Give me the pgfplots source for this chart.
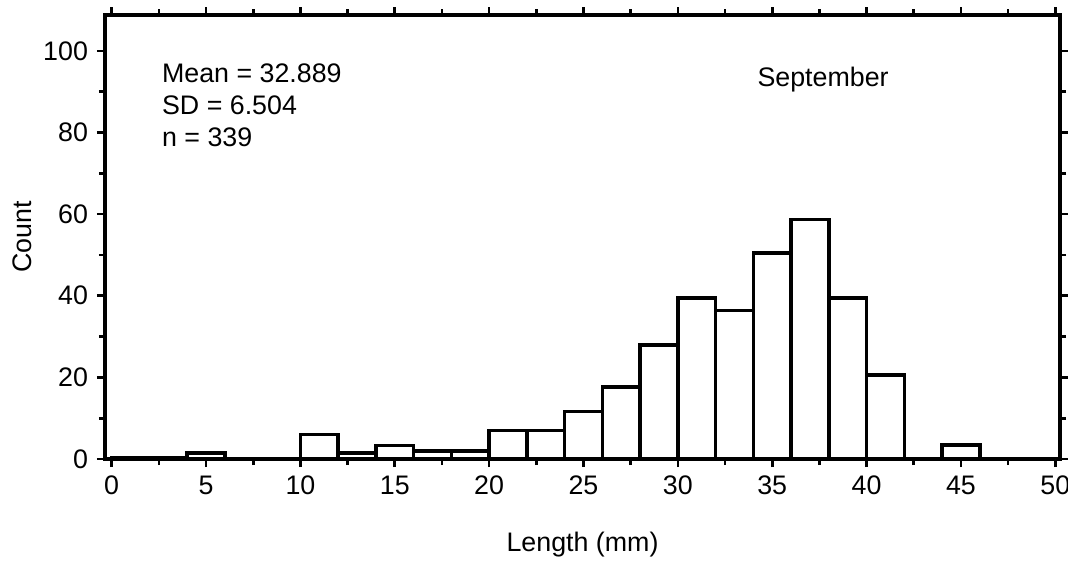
\documentclass[border=0pt]{standalone}
\usepackage{fontspec}
\setmainfont{Liberation Sans}
\usepackage{pgfplots}
\pgfplotsset{compat=1.18}
\begin{document}
\begin{tikzpicture}
\useasboundingbox (0,0) rectangle (534pt,287.5pt);
\begin{axis}[
  at={(52.5pt,58pt)}, anchor=south west,
  scale only axis, width=477.5pt, height=222pt,
  xmin=-0.355, xmax=50.25, ymin=0, ymax=108.8,
  font=\fontsize{13.4}{16}\selectfont,
  /pgf/number format/assume math mode=true,
  axis line style={line width=1.9pt},
  tick align=outside, tick pos=both,
  xtick={0,5,...,50}, minor x tick num=1,
  ytick={0,20,...,100}, minor y tick num=1,
  major tick length=4pt, minor tick length=3pt,
  every tick/.style={black, line width=1.3pt},
  xticklabel style={yshift=-1pt},
  yticklabel style={xshift=-1pt},
  xlabel={Length (mm)}, ylabel={Count},
  xlabel style={at={(axis description cs:0.5,0)}, anchor=center, yshift=-43pt},
  ylabel style={at={(axis description cs:0,0.5)}, anchor=center, rotate=0, yshift=41.5pt},
]
\addplot[ybar interval, fill=white, draw=black, line width=1.8pt] coordinates {
(0,0.4) (2,0.4) (4,1.5) (6,0) (8,0) (10,6) (12,1.5) (14,3.3) (16,2) (18,2)
(20,7) (22,7) (24,11.6) (26,17.7) (28,28) (30,39.5) (32,36.4) (34,50.5) (36,58.7)
(38,39.5) (40,20.6) (42,0) (44,3.5) (46,0) (48,0) (50,0)
};
\node[anchor=base west, inner sep=0pt] at (axis cs:2.65,92.2) {Mean = 32.889};
\node[anchor=base west, inner sep=0pt] at (axis cs:2.65,84.3) {SD = 6.504};
\node[anchor=base west, inner sep=0pt] at (axis cs:2.65,76.5) {n = 339};
\node[anchor=base west, inner sep=0pt] at (axis cs:34.2,91.4) {September};
\end{axis}
\end{tikzpicture}
\end{document}
